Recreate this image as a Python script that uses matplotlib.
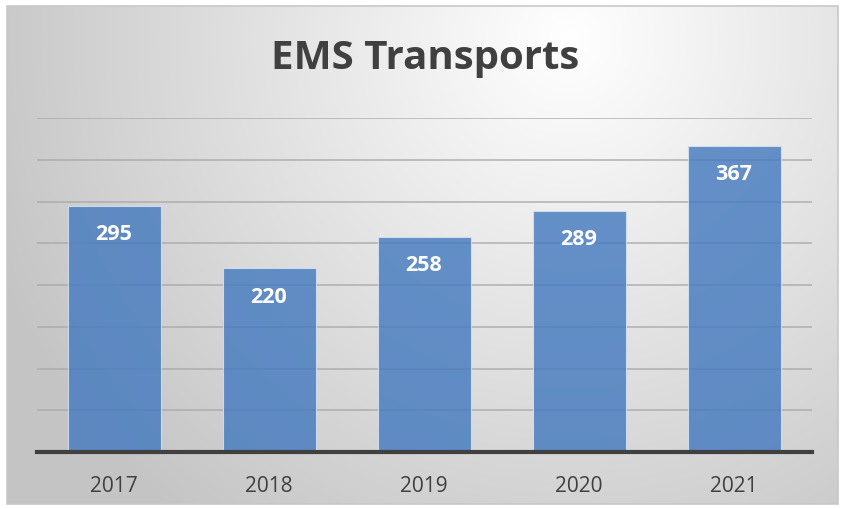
import numpy as np
import matplotlib
matplotlib.use("Agg")
import matplotlib.pyplot as plt
from matplotlib.patches import Rectangle

years = ["2017", "2018", "2019", "2020", "2021"]
transports = [295, 220, 258, 289, 367]
title = "EMS Transports"

W, H = 841, 510
fig = plt.figure(figsize=(W / 100, H / 100), dpi=100)
fig.patch.set_facecolor("white")

# Background radial gradient inside chart frame
bg = fig.add_axes([0, 0, 1, 1])
bg.set_xlim(0, W)
bg.set_ylim(H, 0)
bg.axis("off")
x0, x1, y0, y1 = 7, 838, 7, 505
xx, yy = np.meshgrid(np.linspace(x0, x1, 400), np.linspace(y0, y1, 250))
cx, cy = 570, 40
r = np.sqrt((xx - cx) ** 2 + ((yy - cy) * 1.0) ** 2) / 620.0
r = np.clip(r, 0, 1)
val = 1.0 - 0.23 * r
img = np.dstack([val, val, val])
bg.imshow(img, extent=[x0, x1, y1, y0], aspect="auto", interpolation="bilinear", zorder=0)
bg.add_patch(Rectangle((x0, y0), x1 - x0, y1 - y0, fill=False, edgecolor="#c8c8c8", linewidth=1.2, zorder=1))

ax = fig.add_axes([36.5 / W, 1 - 453 / H, (811.5 - 36.5) / W, (453 - 119) / H])
ax.patch.set_alpha(0)
x = np.arange(len(years))
bars = ax.bar(x, transports, width=0.6, color=(0.27, 0.48, 0.75, 0.82),
              edgecolor=(0.85, 0.9, 0.97, 0.8), linewidth=0.8, zorder=3)
ax.set_xlim(-0.5, len(years) - 0.5)
ax.set_ylim(0, 400)
ax.set_yticks(np.arange(50, 401, 50))
ax.yaxis.grid(True, color="#a8a8a8", linewidth=1.3, alpha=0.75, zorder=1)
ax.tick_params(axis="y", left=False, labelleft=False)
ax.tick_params(axis="x", bottom=False, pad=13)
ax.set_xticks(x)
ax.set_xticklabels(years, fontsize=15, color="#404040", family="Open Sans")
for s in ["top", "right", "left"]:
    ax.spines[s].set_visible(False)
ax.spines["bottom"].set_color("#404040")
ax.spines["bottom"].set_linewidth(3)
ax.spines["bottom"].set_zorder(5)

for xi, v in zip(x, transports):
    ax.annotate(str(v), (xi, v), xytext=(0, -28), textcoords="offset pixels",
                ha="center", va="center", color="white", fontsize=15.5,
                fontweight="bold", family="Open Sans", zorder=6)

fig.text(425 / W, 1 - 58 / H, title, ha="center", va="center", fontsize=29,
         fontweight="bold", color="#404040", family="Open Sans")

fig.savefig("out.png", dpi=100)
